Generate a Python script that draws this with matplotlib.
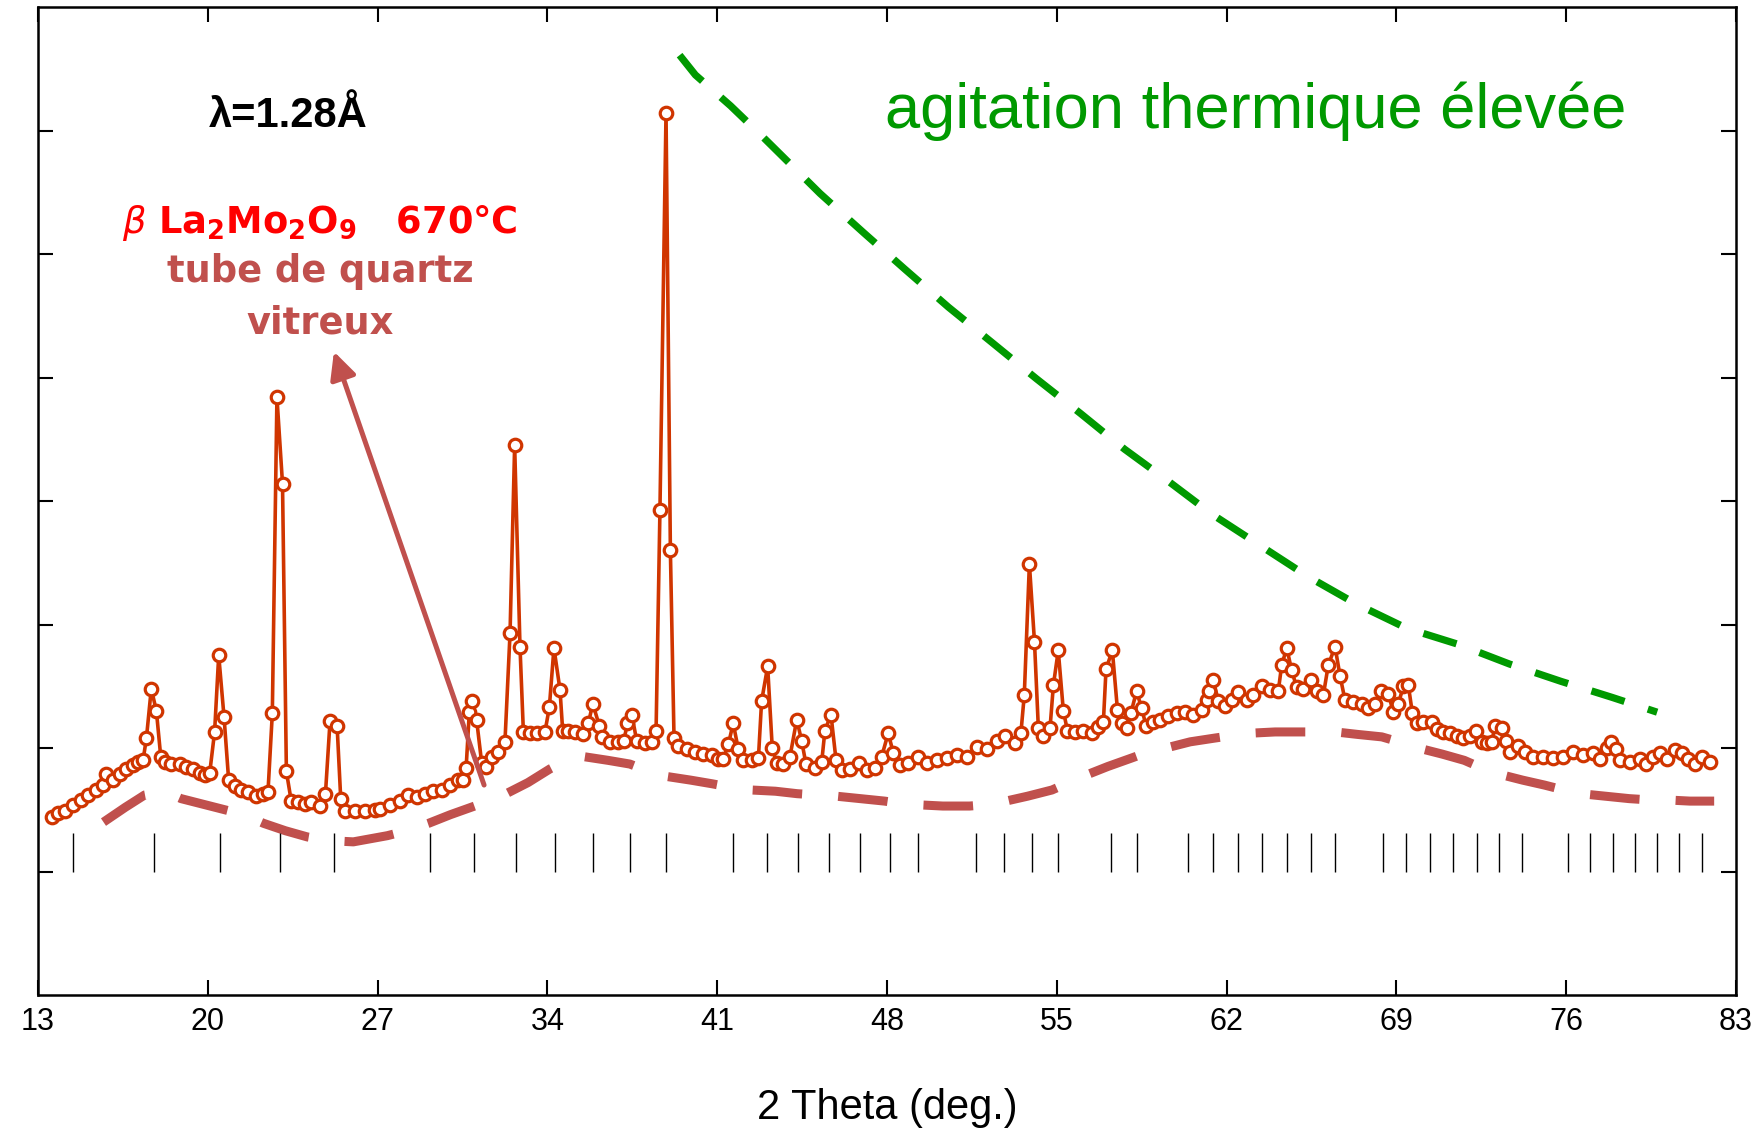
import matplotlib
matplotlib.use('Agg')
import matplotlib.pyplot as plt

plt.rcParams['font.family'] = ['Liberation Sans', 'DejaVu Sans']
plt.rcParams['mathtext.fontset'] = 'dejavusans'

# observed pattern (2theta, intensity)
two_theta = [
    13.58, 13.82, 14.10, 14.44, 14.79, 15.06, 15.40, 15.68, 15.82, 16.09,
    16.37, 16.64, 16.92, 17.12, 17.33, 17.47, 17.67, 17.88, 18.06, 18.22,
    18.50, 18.84, 19.12, 19.39, 19.66, 19.87, 20.08, 20.28, 20.45, 20.67,
    20.86, 21.11, 21.38, 21.66, 22.00, 22.28, 22.48, 22.66, 22.85, 23.08,
    23.24, 23.44, 23.72, 23.99, 24.27, 24.61, 24.85, 25.04, 25.33, 25.48,
    25.64, 26.05, 26.47, 26.88,
    27.10, 27.51, 27.92, 28.27, 28.61, 28.96, 29.30, 29.64, 29.99, 30.33,
    30.51, 30.65, 30.78, 30.88, 31.08, 31.29, 31.47, 31.70, 31.98, 32.25,
    32.46, 32.65, 32.87, 33.01, 33.28, 33.56, 33.90, 34.08, 34.27, 34.52,
    34.63, 34.86, 35.14, 35.48, 35.69, 35.87, 36.14, 36.24, 36.58, 36.93,
    37.15, 37.30, 37.48, 37.68, 38.03, 38.30, 38.48, 38.64, 38.89, 39.07,
    39.22, 39.40, 39.74, 40.09, 40.43, 40.77, 41.05,
    41.25, 41.46, 41.66, 41.87, 42.08, 42.42, 42.70, 42.83, 43.08, 43.27,
    43.45, 43.73, 44.00, 44.28, 44.48, 44.66, 45.03, 45.31, 45.44, 45.69,
    45.90, 46.13, 46.47, 46.86, 47.16, 47.51, 47.78, 48.05, 48.26, 48.54,
    48.88, 49.29, 49.63, 50.05, 50.46, 50.87, 51.28, 51.70, 52.11, 52.52,
    52.86, 53.28, 53.52, 53.66, 53.87, 54.08, 54.24, 54.44, 54.72, 54.86,
    55.06, 55.27, 55.44,
    55.75, 56.09, 56.44, 56.71, 56.92, 57.03, 57.29, 57.50, 57.68, 57.88,
    58.05, 58.29, 58.50, 58.68, 58.98, 59.26, 59.60, 59.94, 60.29, 60.63,
    60.97, 61.18, 61.29, 61.45, 61.66, 61.93, 62.21, 62.48, 62.83, 63.10,
    63.45, 63.79, 64.13, 64.27, 64.48, 64.68, 64.89, 65.16, 65.47, 65.71,
    65.99, 66.19, 66.47, 66.68, 66.88, 67.23, 67.57, 67.84, 68.12, 68.35,
    68.67, 68.87, 69.08, 69.29, 69.49,
    69.66, 69.84, 70.11, 70.45, 70.66, 70.94, 71.21, 71.49, 71.76, 72.03,
    72.28, 72.52, 72.75, 72.93, 73.07, 73.34, 73.52, 73.68, 74.03, 74.30,
    74.65, 75.06, 75.47, 75.88, 76.29, 76.71, 77.12, 77.39, 77.67, 77.83,
    78.05, 78.22, 78.63, 79.04, 79.29, 79.59, 79.87, 80.14, 80.49, 80.76,
    81.04, 81.31, 81.59, 81.93,
]
intensity = [
    1.44, 1.47, 1.49, 1.54, 1.58, 1.62, 1.66, 1.70, 1.79, 1.74,
    1.79, 1.83, 1.86, 1.89, 1.90, 2.08, 2.48, 2.30, 1.93, 1.89,
    1.87, 1.87, 1.85, 1.83, 1.80, 1.78, 1.80, 2.13, 2.75, 2.25,
    1.74, 1.69, 1.66, 1.64, 1.61, 1.63, 1.64, 2.28, 4.84, 4.14,
    1.81, 1.57, 1.56, 1.55, 1.56, 1.53, 1.63, 2.22, 2.18, 1.59,
    1.49, 1.49, 1.49, 1.50,
    1.51, 1.54, 1.57, 1.62, 1.60, 1.63, 1.65, 1.66, 1.70, 1.74,
    1.74, 1.84, 2.29, 2.38, 2.23, 1.88, 1.85, 1.93, 1.97, 2.05,
    2.93, 4.45, 2.82, 2.13, 2.12, 2.12, 2.13, 2.33, 2.81, 2.47,
    2.14, 2.14, 2.13, 2.11, 2.20, 2.36, 2.18, 2.09, 2.05, 2.05,
    2.06, 2.20, 2.27, 2.06, 2.04, 2.05, 2.14, 3.93, 7.14, 3.60,
    2.08, 2.02, 1.99, 1.97, 1.95, 1.94, 1.91,
    1.91, 2.03, 2.20, 1.99, 1.90, 1.90, 1.92, 2.38, 2.66, 2.00,
    1.88, 1.87, 1.93, 2.23, 2.06, 1.87, 1.84, 1.89, 2.14, 2.27,
    1.90, 1.82, 1.83, 1.88, 1.82, 1.84, 1.93, 2.12, 1.96, 1.86,
    1.88, 1.93, 1.88, 1.90, 1.92, 1.94, 1.93, 2.01, 1.99, 2.06,
    2.10, 2.04, 2.12, 2.43, 3.49, 2.86, 2.16, 2.10, 2.16, 2.51,
    2.79, 2.30, 2.14,
    2.13, 2.14, 2.12, 2.17, 2.21, 2.64, 2.79, 2.31, 2.20, 2.16,
    2.28, 2.46, 2.32, 2.18, 2.21, 2.23, 2.26, 2.28, 2.29, 2.27,
    2.31, 2.39, 2.46, 2.55, 2.38, 2.34, 2.39, 2.45, 2.39, 2.43,
    2.50, 2.47, 2.46, 2.67, 2.81, 2.63, 2.49, 2.48, 2.55, 2.46,
    2.43, 2.67, 2.82, 2.58, 2.39, 2.37, 2.36, 2.32, 2.36, 2.46,
    2.44, 2.29, 2.36, 2.50, 2.51,
    2.28, 2.20, 2.21, 2.21, 2.15, 2.13, 2.12, 2.10, 2.08, 2.10,
    2.14, 2.05, 2.04, 2.05, 2.18, 2.16, 2.06, 1.97, 2.02, 1.97,
    1.93, 1.93, 1.92, 1.93, 1.97, 1.94, 1.96, 1.91, 2.00, 2.05,
    1.99, 1.90, 1.89, 1.91, 1.87, 1.93, 1.96, 1.91, 1.98, 1.96,
    1.91, 1.87, 1.93, 1.89,
]

# amorphous quartz-tube background (dashed)
bg_theta = [15.7, 16.6, 17.4, 18.2, 18.9, 19.9, 20.9, 21.6, 22.3, 23.2,
            24.1, 25.0, 26.0, 27.4, 28.2, 29.1, 30.0, 31.0, 31.7, 32.3,
            33.2, 34.1, 34.8, 35.5, 36.5, 37.4, 38.2, 38.9, 39.9, 40.8,
            41.6, 42.4, 43.4, 44.3, 45.1, 45.9, 46.9, 47.9, 48.6, 49.3,
            50.3, 51.4, 52.1, 52.9, 53.8, 54.8, 55.5, 56.2, 57.1, 58.1,
            58.8, 59.5, 60.5, 61.5, 62.2, 63.0, 64.0, 65.0, 65.7, 66.5,
            67.4, 68.4, 69.1, 69.9, 70.9, 71.8, 72.5, 73.2, 74.2, 75.1,
            75.9, 76.6, 77.6, 78.6, 79.4, 80.1, 81.1, 82.1]
bg_int = [1.40, 1.52, 1.62, 1.65, 1.59, 1.54, 1.49, 1.45, 1.39, 1.33,
          1.28, 1.25, 1.24, 1.29, 1.33, 1.39, 1.46, 1.53, 1.58, 1.63,
          1.72, 1.83, 1.90, 1.93, 1.90, 1.87, 1.81, 1.77, 1.74, 1.71,
          1.68, 1.66, 1.65, 1.63, 1.62, 1.61, 1.59, 1.57, 1.55, 1.54,
          1.53, 1.53, 1.54, 1.57, 1.61, 1.66, 1.72, 1.78, 1.85, 1.92,
          1.97, 2.00, 2.05, 2.08, 2.10, 2.12, 2.13, 2.13, 2.13, 2.13,
          2.11, 2.09, 2.05, 2.00, 1.95, 1.90, 1.84, 1.79, 1.74, 1.70,
          1.66, 1.63, 1.61, 1.59, 1.58, 1.58, 1.57, 1.57]

# thermal agitation envelope (green dashed)
env_theta = [39.45, 40.10, 41.55, 42.82, 45.24, 47.05, 48.72, 50.53, 52.35,
             54.16, 55.97, 57.79, 59.60, 61.42, 63.38, 65.34, 67.31, 69.42,
             71.54, 73.66, 75.78, 77.89, 79.75]
env_int = [7.61, 7.45, 7.20, 6.96, 6.49, 6.17, 5.88, 5.57, 5.28,
           4.99, 4.71, 4.42, 4.16, 3.89, 3.64, 3.39, 3.17, 2.97,
           2.84, 2.68, 2.54, 2.41, 2.29]

# Bragg reflection positions
bragg = [14.44, 17.77, 20.52, 22.96, 25.19, 29.16, 30.98, 32.69, 34.31, 35.89,
         37.41, 38.88, 41.66, 43.04, 44.34, 45.62, 46.89, 48.12, 49.29, 51.67,
         52.82, 53.96, 55.06, 57.22, 58.32, 60.42, 61.43, 62.48, 63.47, 64.48,
         65.47, 66.47, 68.43, 69.38, 70.39, 71.35, 72.31, 73.24, 74.17, 76.09,
         76.98, 77.92, 78.84, 79.76, 80.66, 81.58]

xticks = [13, 20, 27, 34, 41, 48, 55, 62, 69, 76, 83]

data_col = '#D03500'
bg_col = '#C0504D'
green = '#009900'

fig = plt.figure(figsize=(17.58, 11.31), dpi=100)
ax = fig.add_axes([38/1758, 1 - 995/1131, 1698/1758, 988/1131])

ax.plot(bg_theta, bg_int, color=bg_col, lw=6.5, dashes=(5.5, 4.0), zorder=2)
ax.plot(env_theta, env_int, color=green, lw=5.2, dashes=(4.8, 3.4), zorder=2)
ax.vlines(bragg, 1.0, 1.31, color='black', lw=1.0, zorder=2)
ax.plot(two_theta, intensity, color=data_col, lw=2.6, marker='o', ms=9,
        mfc='white', mec=data_col, mew=2.3, zorder=3)

ax.annotate('', xy=(25.20, 5.21), xytext=(31.39, 1.70),
            arrowprops=dict(arrowstyle='-|>,head_length=0.45,head_width=0.22',
                            color=bg_col, lw=3.6, mutation_scale=36,
                            shrinkA=0, shrinkB=0), zorder=4)

ax.text(20.03, 7.03, 'λ=1.28Å', fontsize=30, fontweight='bold', color='black',
        ha='left', va='baseline')
ax.text(24.63, 6.17, r'$\beta$ La$_\mathbf{2}$Mo$_\mathbf{2}$O$_\mathbf{9}$   670°C',
        fontsize=26.5, fontweight='bold', color='#FF0000', ha='center', va='baseline',
        family='DejaVu Sans')
ax.text(24.63, 5.77, 'tube de quartz', fontsize=26.5, fontweight='bold', color=bg_col,
        ha='center', va='baseline', family='DejaVu Sans')
ax.text(24.63, 5.36, 'vitreux', fontsize=26.5, fontweight='bold', color=bg_col,
        ha='center', va='baseline', family='DejaVu Sans')
ax.text(47.90, 7.02, 'agitation thermique élevée', fontsize=45.5, color=green,
        ha='left', va='baseline')

ax.set_xlim(13, 83)
ax.set_ylim(0, 8)
ax.set_xticks(xticks)
ax.set_xticklabels([str(t) for t in xticks], fontsize=22)
ax.set_yticks(range(1, 8))
ax.set_yticklabels([])
ax.tick_params(axis='both', direction='in', length=10.5, width=1.5, top=True, right=True)
ax.tick_params(axis='x', pad=9)
for s in ax.spines.values():
    s.set_linewidth(1.8)

ax.set_xlabel('2 Theta (deg.)', fontsize=30)
ax.xaxis.set_label_coords(0.5, -0.114)
ax.xaxis.label.set_va('center')

fig.savefig('out.png', dpi=100, facecolor='white')
